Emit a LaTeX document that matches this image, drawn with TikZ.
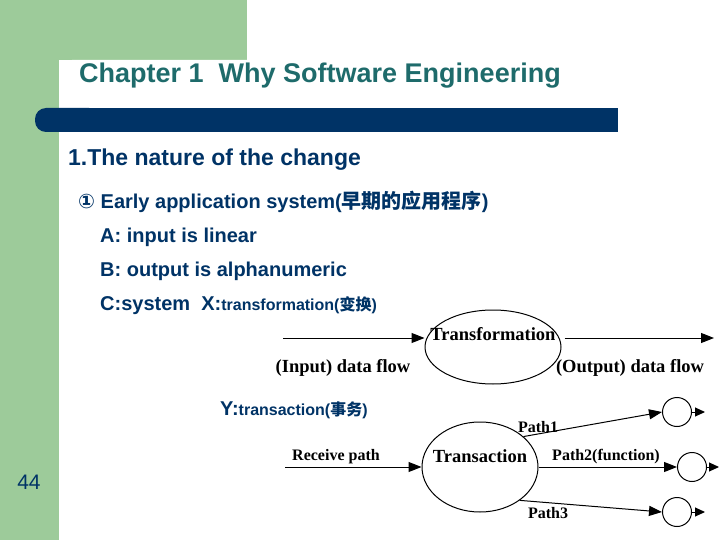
\documentclass[tikz,border=0pt]{standalone}
\usepackage{fontspec}
\setmainfont{Liberation Sans}
\newfontfamily\cjk{Noto Sans CJK SC}
\newfontfamily\ser{Liberation Serif}
\newfontfamily\djvfont{DejaVu Sans}
\usetikzlibrary{arrows.meta,shapes.geometric}
\definecolor{gr}{HTML}{9DCB9A}
\definecolor{nv}{HTML}{003366}
\definecolor{tl}{HTML}{1E6B6B}
\begin{document}
\begin{tikzpicture}[x=1pt,y=-1pt,
  txt/.style={anchor=west,inner sep=0,text=nv,font=\bfseries\fontsize{20}{22}\selectfont},
  dg/.style={inner sep=0,font=\ser\bfseries\fontsize{18.5}{20}\selectfont},
  sdg/.style={dg,font=\ser\bfseries\fontsize{16}{18}\selectfont},
  arr/.style={-{Triangle[length=13pt,width=10pt]},line width=1pt},
  sarr/.style={-{Triangle[length=10pt,width=9pt]},line width=1pt},
  circ/.style={draw,circle,line width=1pt,minimum size=29pt,inner sep=0}]
\useasboundingbox (0,0) rectangle (720,540);
\fill[white] (0,0) rectangle (720,540);
\fill[gr] (0,0) rectangle (247,60);
\fill[gr] (0,0) rectangle (59,540);
\fill[white,rounded corners=12pt] (60,60) rectangle (720,560);
\fill[nv,rounded corners=11pt] (35,108) rectangle (100,132);
\fill[nv] (50,108) rectangle (618,132);
\node[anchor=west,inner sep=0,text=tl,font=\bfseries\fontsize{27}{30}\selectfont] (title) at (79,76) {Chapter 1\ \ Why Software Engineering};
\node[txt,font=\bfseries\fontsize{23}{26}\selectfont] (h1) at (68,160) {1.The nature of the change};
\node[txt] (l1) at (78,202) {{\djvfont ①} Early application system({\cjk 早期的应用程序})};
\node[txt] (l2) at (100,237) {A: input is linear};
\node[txt] (l3) at (100,271) {B: output is alphanumeric};
\node[txt] (l4) at (100,306) {C:system\ \ X:{\fontsize{16}{18}\selectfont transformation({\cjk 变换})}};
\node[txt] (l5) at (220,410) {Y:{\fontsize{16}{18}\selectfont transaction({\cjk 事务})}};
\node[anchor=center,text=nv,font=\fontsize{21}{23}\selectfont] (pg) at (29,482) {44};
% transformation
\node[draw,ellipse,line width=1pt,minimum width=136pt,minimum height=74pt,inner sep=0] (T) at (493,347) {};
\node[dg] (Tt) at (493,334) {Transformation};
\coordinate (i0) at (283,338);
\coordinate (o1) at (714,338);
\draw[arr] (i0) -- (T.west |- i0) ;
\draw[arr] (T.east |- i0) ++(3,0) -- (o1);
\node[dg] (il) at (343,368) {(Input) data flow};
\node[dg] (ol) at (630,368) {(Output) data flow};
% transaction
\node[draw,ellipse,line width=1pt,minimum width=116pt,minimum height=90pt,inner sep=0] (X) at (480,467) {};
\node[dg] (Xt) at (480,456) {Transaction};
\coordinate (r0) at (285,467);
\draw[arr] (r0) -- (X.west);
\node[sdg] (rl) at (336,457) {Receive path};
\node[circ] (c1) at (677,412) {};
\node[circ] (c2) at (692,467) {};
\node[circ] (c3) at (677,512) {};
\draw[arr] (X.35) -- (c1.west);
\draw[arr] (X.east) -- (c2.west);
\draw[arr] (X.-40) -- (c3.west);
\node[sdg] (p1) at (538,427) {Path1};
\node[sdg] (p2) at (606,457) {Path2(function)};
\node[sdg] (p3) at (548,513) {Path3};
\coordinate (e1) at (705,412);
\coordinate (e2) at (719,467);
\coordinate (e3) at (705,512);
\draw[sarr] (c1.east) -- (e1);
\draw[sarr] (c2.east) -- (e2);
\draw[sarr] (c3.east) -- (e3);
\end{tikzpicture}
\end{document}
